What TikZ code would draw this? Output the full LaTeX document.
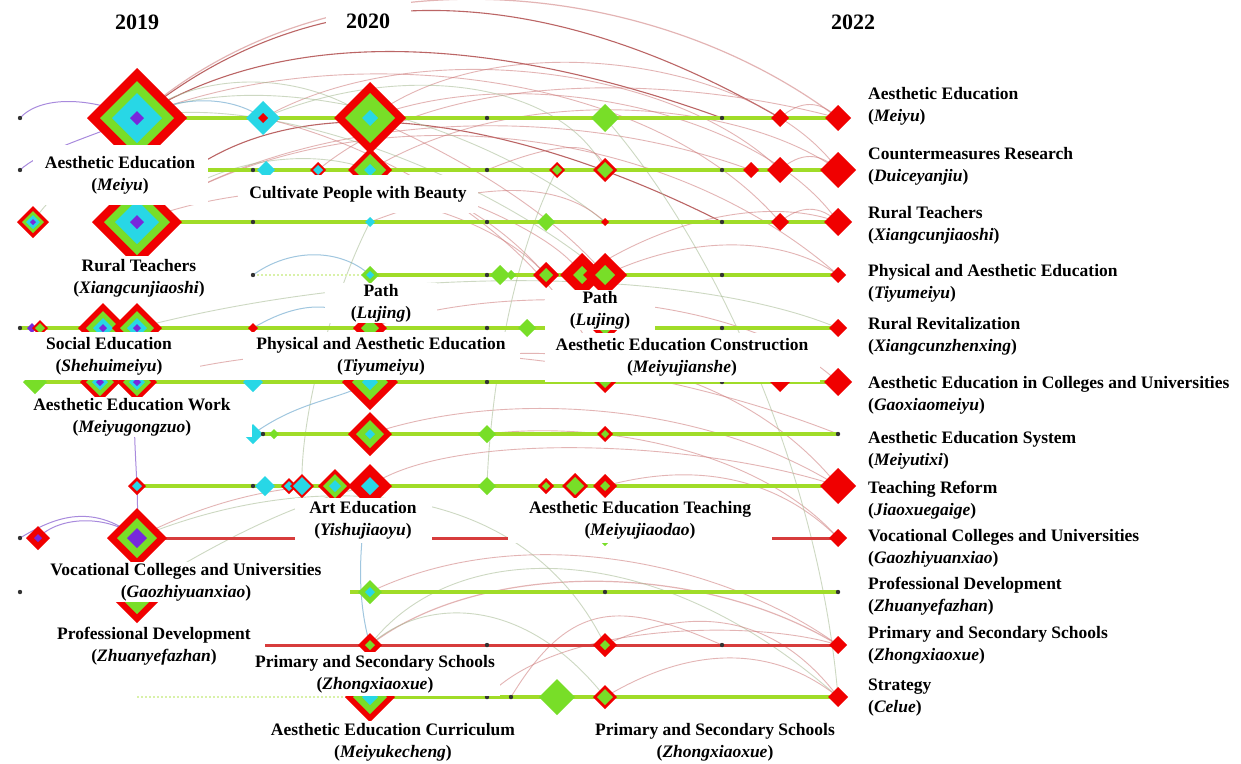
\documentclass[tikz,border=0pt]{standalone}
\usepackage{fontspec}
\setmainfont{Liberation Serif}
\definecolor{kred}{RGB}{240,0,0}
\definecolor{kgrn}{RGB}{120,222,40}
\definecolor{kcyn}{RGB}{40,215,230}
\definecolor{kpur}{RGB}{120,40,220}
\definecolor{tlgrn}{RGB}{160,220,40}
\definecolor{tlred}{RGB}{215,60,60}
\definecolor{arcr}{RGB}{205,120,120}
\definecolor{arcg}{RGB}{165,185,145}
\definecolor{arcb}{RGB}{120,175,210}
\definecolor{arcd}{RGB}{165,50,50}
\definecolor{arcp}{RGB}{140,100,210}
\newcommand\lblfont{\fontsize{17.5}{22}\selectfont\bfseries}
\newcommand\yrfont{\fontsize{22}{26}\selectfont\bfseries}
\newcommand\kw[4]{\coordinate (#1) at (#2,#3);
  \foreach \kc/\kr in {#4}{\fill[fill=\kc] (#2,#3) +(-\kr,0) -- +(0,-\kr) -- +(\kr,0) -- +(0,\kr) -- cycle;}}
\newcommand\kdot[3]{\coordinate (#1) at (#2,#3); \fill[black!80] (#1) circle (2.2);}
\newcommand\lab[7]{\node[lbl, minimum width=#4, minimum height=#5] (#1) at (#2,#3) {#6\\(\textit{#7})};}
\newcommand\rlab[4]{\node[rlbl] (#1) at (868,#2) {#3\\(\textit{#4})};}
\tikzset{
  lbl/.style={fill=white, align=center, inner sep=0pt, font=\lblfont},
  rlbl/.style={anchor=west, align=left, inner sep=0pt, font=\lblfont},
  yr/.style={fill=white, inner sep=3pt, font=\yrfont},
  tlg/.style={draw=tlgrn, line width=3.2},
  tlr/.style={draw=tlred, line width=3},
  tlf/.style={draw=tlgrn!40, line width=2, dotted},
  ar/.style={draw=arcr, line width=0.9, opacity=0.55},
  ag/.style={draw=arcg, line width=0.9, opacity=0.55},
  ab/.style={draw=arcb, line width=1, opacity=0.7},
  ad/.style={draw=arcd, line width=1.1, opacity=0.75},
  ap/.style={draw=arcp, line width=1, opacity=0.75},
}
\begin{document}
\begin{tikzpicture}[x=1pt,y=-1pt]
\fill[white] (0,0) rectangle (1241,763);
\useasboundingbox (0,0) rectangle (1241,763);

% ---------------- coordinates of all nodes (rows a..l)
\coordinate (a20) at (20,118); \coordinate (a137) at (137,118); \coordinate (a263) at (263,118);
\coordinate (a370) at (370,118); \coordinate (a487) at (487,118); \coordinate (a605) at (605,118);
\coordinate (a722) at (722,118); \coordinate (a780) at (780,118); \coordinate (a838) at (838,118);
\coordinate (b20) at (20,170); \coordinate (b137) at (137,170); \coordinate (b253) at (253,170);
\coordinate (b266) at (266,170); \coordinate (b318) at (318,170); \coordinate (b370) at (370,170);
\coordinate (b487) at (487,170); \coordinate (b557) at (557,170); \coordinate (b605) at (605,170);
\coordinate (b722) at (722,170); \coordinate (b751) at (751,170); \coordinate (b780) at (780,170);
\coordinate (b838) at (838,170);
\coordinate (c33) at (33,222); \coordinate (c137) at (137,222); \coordinate (c253) at (253,222);
\coordinate (c370) at (370,222); \coordinate (c487) at (487,222); \coordinate (c546) at (546,222);
\coordinate (c605) at (605,222); \coordinate (c722) at (722,222); \coordinate (c780) at (780,222);
\coordinate (c838) at (838,222);
\coordinate (d253) at (253,275); \coordinate (d370) at (370,275); \coordinate (d487) at (487,275);
\coordinate (d500) at (500,275); \coordinate (d511) at (511,275); \coordinate (d546) at (546,275);
\coordinate (d582) at (582,275); \coordinate (d605) at (605,275); \coordinate (d722) at (722,275);
\coordinate (d838) at (838,275);
\coordinate (e20) at (20,328); \coordinate (e137) at (137,328); \coordinate (e253) at (253,328);
\coordinate (e370) at (370,328); \coordinate (e487) at (487,328); \coordinate (e605) at (605,328);
\coordinate (e838) at (838,328);
\coordinate (f35) at (35,382); \coordinate (f137) at (137,382); \coordinate (f253) at (253,382);
\coordinate (f370) at (370,382); \coordinate (f605) at (605,382); \coordinate (f838) at (838,382);
\coordinate (g253) at (253,434); \coordinate (g370) at (370,434); \coordinate (g487) at (487,434);
\coordinate (g605) at (605,434); \coordinate (g838) at (838,434);
\coordinate (h137) at (137,486); \coordinate (h302) at (302,486); \coordinate (h370) at (370,486);
\coordinate (h487) at (487,486); \coordinate (h605) at (605,486); \coordinate (h838) at (838,486);
\coordinate (i20) at (20,538); \coordinate (i38) at (38,538); \coordinate (i137) at (137,538);
\coordinate (i838) at (838,538);
\coordinate (j137) at (137,592); \coordinate (j350) at (350,592); \coordinate (j370) at (370,592);
\coordinate (j838) at (838,592);
\coordinate (k265) at (265,645); \coordinate (k370) at (370,645); \coordinate (k605) at (605,645);
\coordinate (k722) at (722,645); \coordinate (k838) at (838,645);
\coordinate (l137) at (137,697); \coordinate (l370) at (370,697); \coordinate (l487) at (487,697);
\coordinate (l511) at (511,697); \coordinate (l605) at (605,697); \coordinate (l838) at (838,697);

% ---------------- co-occurrence arcs
\draw[ad] (a137) .. controls (330,-40) and (560,-10) .. (a780);
\draw[ar, line width=1.2] (a137) .. controls (330,-55) and (650,-25) .. (a838);
\draw[ad] (a137) .. controls (300,15) and (520,45) .. (a722);
\draw[ad] (c137) .. controls (260,60) and (520,120) .. (c722);
\draw[ar] (a370) .. controls (500,20) and (760,60) .. (b838);
\draw[ar] (a370) .. controls (520,60) and (760,110) .. (c838);
\draw[ar] (a263) .. controls (420,30) and (680,70) .. (b780);
\draw[ar] (b370) .. controls (520,80) and (740,100) .. (b838);
\draw[ar] (c137) .. controls (300,110) and (560,100) .. (b751);
\draw[ar] (a137) .. controls (320,40) and (640,60) .. (c780);
\draw[ar] (b318) .. controls (450,60) and (700,80) .. (a838);
\draw[ar] (c137) .. controls (330,90) and (650,110) .. (d838);
\draw[ag] (a137) .. controls (260,60) and (480,120) .. (c605);
\draw[ag] (a137) .. controls (260,90) and (480,170) .. (d605);
\draw[ag] (a263) .. controls (400,60) and (560,80) .. (b605);
\draw[ar] (b318) .. controls (400,170) and (480,200) .. (d546);
\draw[ar] (a263) .. controls (400,150) and (560,250) .. (f605);
\draw[ar] (a780) .. controls (800,100) and (820,100) .. (a838);
\draw[ar] (b780) .. controls (800,152) and (820,152) .. (b838);
\draw[ar] (c780) .. controls (800,205) and (820,205) .. (c838);
\draw[ap] (a20) .. controls (40,96) and (90,96) .. (a137);
\draw[ap] (b20) .. controls (40,152) and (80,140) .. (a137);
\draw[ag] (c33) .. controls (60,180) and (110,160) .. (a137);
\draw[ag] (a137) .. controls (200,70) and (300,70) .. (a370);
\draw[ag] (c137) .. controls (220,150) and (320,150) .. (b370);
\draw[ab] (a137) .. controls (180,95) and (230,95) .. (a263);
\draw[ab] (d253) .. controls (290,248) and (340,248) .. (d370);
\draw[ar] (c137) .. controls (300,160) and (480,200) .. (d546);
\draw[ar] (b370) .. controls (480,200) and (560,240) .. (d582);
\draw[ar] (a370) .. controls (470,160) and (560,220) .. (d605);
\draw[ar] (c370) .. controls (480,180) and (560,180) .. (c605);
\draw[ar] (b487) .. controls (560,140) and (600,140) .. (b605);
\draw[ar] (d605) .. controls (700,230) and (790,240) .. (d838);
\draw[ar] (d582) .. controls (680,210) and (780,200) .. (c838);
\draw[ag] (e137) .. controls (400,260) and (700,270) .. (e838);
\draw[ar] (e370) .. controls (500,280) and (740,290) .. (f838);
\draw[ar] (f370) .. controls (500,330) and (720,340) .. (h838);
\draw[ar] (g370) .. controls (500,390) and (700,400) .. (h838);
\draw[ar] (h370) .. controls (450,430) and (700,440) .. (h838);
\draw[ar] (f137) .. controls (300,330) and (600,340) .. (g838);
\draw[ar] (g487) .. controls (600,420) and (760,450) .. (i838);
\draw[ar] (h605) .. controls (700,460) and (780,480) .. (i838);
\draw[ag] (a605) .. controls (720,250) and (820,480) .. (l838);
\draw[ag] (b557) .. controls (510,260) and (490,400) .. (h487);
\draw[ag] (c370) .. controls (330,300) and (300,420) .. (h302);
\draw[ap] (f137) .. controls (130,430) and (140,480) .. (i137);
\draw[ap] (i38) .. controls (60,515) and (110,515) .. (i137);
\draw[ap] (i20) .. controls (50,520) and (90,500) .. (i137);
\draw[ar] (i137) .. controls (200,505) and (280,480) .. (h370);
\draw[ag] (j137) .. controls (220,540) and (300,500) .. (h370);
\draw[ab] (h370) .. controls (355,560) and (360,610) .. (k370);
\draw[ar, line width=1.2] (k370) .. controls (480,560) and (700,560) .. (k838);
\draw[ag] (k370) .. controls (450,540) and (650,530) .. (l838);
\draw[ar] (l511) .. controls (570,600) and (620,600) .. (k722);
\draw[ar] (l605) .. controls (700,640) and (780,650) .. (l838);
\draw[ar] (k605) .. controls (700,600) and (780,620) .. (l838);
\draw[ar] (l487) .. controls (560,620) and (760,620) .. (k838);
\draw[ar] (j370) .. controls (520,520) and (720,560) .. (k838);
\draw[ag] (i137) .. controls (300,470) and (520,470) .. (k605);
\draw[ag] (k370) .. controls (420,600) and (520,590) .. (l605);
\draw[ab] (e253) .. controls (300,300) and (340,300) .. (e370);
\draw[ab] (g253) .. controls (300,400) and (340,400) .. (f370);

% ---------------- timelines
\draw[tlg] (a137) -- (a838);
\draw[tlg] (b137) -- (b838);
\draw[tlg] (c137) -- (c838);
\draw[tlf] (d253) -- (d370); \draw[tlg] (d370) -- (d838);
\draw[tlg] (e20) -- (e838);
\draw[tlg] (f35) -- (f838);
\draw[tlg] (g253) -- (g838);
\draw[tlg] (h137) -- (h838);
\draw[tlr] (i137) -- (i838);
\draw[tlg] (j350) -- (j838);
\draw[tlr] (k265) -- (k838);
\draw[tlf] (l137) -- (l370); \draw[tlg] (l370) -- (l838);

% ---------------- keyword nodes
\kdot{na20}{20}{118}
\kw{na137}{137}{118}{kred/50,kgrn/37,kcyn/25,kpur/7}
\kw{na263}{263}{118}{kcyn/17,kred/5}
\kw{na370}{370}{118}{kred/36,kgrn/25,kcyn/8}
\kdot{na487}{487}{118}
\kw{na605}{605}{118}{kgrn/14}
\kdot{na722}{722}{118}
\kw{na780}{780}{118}{kred/9}
\kw{na838}{838}{118}{kred/13}
\kdot{nb20}{20}{170}
\kdot{nb253}{253}{170}
\kw{nb266}{266}{170}{kcyn/9}
\kw{nb318}{318}{170}{kred/8,kcyn/5}
\kw{nb370}{370}{170}{kred/22,kgrn/16,kcyn/6}
\kdot{nb487}{487}{170}
\kw{nb557}{557}{170}{kred/8,kgrn/5}
\kw{nb605}{605}{170}{kred/12,kgrn/8}
\kdot{nb722}{722}{170}
\kw{nb751}{751}{170}{kred/8}
\kw{nb780}{780}{170}{kred/13}
\kw{nb838}{838}{170}{kred/18}
\kw{nc33}{33}{222}{kred/16,kgrn/11,kcyn/7,kpur/3}
\kw{nc137}{137}{222}{kred/45,kgrn/33,kcyn/22,kpur/7}
\kdot{nc253}{253}{222}
\kw{nc370}{370}{222}{kcyn/5}
\kdot{nc487}{487}{222}
\kw{nc546}{546}{222}{kgrn/9}
\kw{nc605}{605}{222}{kred/4}
\kdot{nc722}{722}{222}
\kw{nc780}{780}{222}{kred/9}
\kw{nc838}{838}{222}{kred/14}
\kdot{nd253}{253}{275}
\kw{nd370}{370}{275}{kgrn/9,kcyn/4}
\kdot{nd487}{487}{275}
\kw{nd500}{500}{275}{kgrn/10}
\kw{nd511}{511}{275}{kgrn/5}
\kw{nd546}{546}{275}{kred/13,kgrn/7}
\kw{nd582}{582}{275}{kred/22,kgrn/9}
\kw{nd605}{605}{275}{kred/22,kgrn/10}
\kdot{nd722}{722}{275}
\kw{nd838}{838}{275}{kred/8}
\kdot{ne20}{20}{328}
\kw{ne32}{32}{328}{kpur/5}
\kw{ne40}{40}{328}{kred/8,kgrn/5}
\kw{ne103}{103}{328}{kred/25,kgrn/17,kcyn/10,kpur/4}
\kw{ne137}{137}{328}{kred/25,kgrn/17,kcyn/10,kpur/4}
\kw{ne253}{253}{328}{kred/5}
\kw{ne370}{370}{328}{kred/17,kgrn/9}
\kdot{ne487}{487}{328}
\kw{ne527}{527}{328}{kgrn/9}
\kw{ne605}{605}{328}{kred/14,kgrn/7}
\kdot{ne722}{722}{328}
\kw{ne838}{838}{328}{kred/9}
\kw{nf35}{35}{382}{kgrn/12}
\kw{nf100}{100}{382}{kred/20,kgrn/14,kcyn/8,kpur/4}
\kw{nf137}{137}{382}{kred/20,kgrn/14,kcyn/8,kpur/4}
\kw{nf253}{253}{382}{kcyn/10}
\kw{nf370}{370}{382}{kred/28,kgrn/18,kcyn/8}
\kdot{nf487}{487}{382}
\kw{nf605}{605}{382}{kred/11,kgrn/6}
\kdot{nf722}{722}{382}
\kw{nf780}{780}{382}{kred/10}
\kw{nf838}{838}{382}{kred/14}
\kw{ng253}{253}{434}{kcyn/10}
\kdot{ng263}{263}{434}
\kw{ng274}{274}{434}{kgrn/5}
\kw{ng370}{370}{434}{kred/22,kgrn/14,kcyn/5}
\kw{ng487}{487}{434}{kgrn/9}
\kw{ng605}{605}{434}{kred/8,kgrn/4}
\kdot{ng838}{838}{434}
\kw{nh137}{137}{486}{kred/9,kcyn/5}
\kdot{nh253}{253}{486}
\kw{nh265}{265}{486}{kcyn/10}
\kw{nh289}{289}{486}{kred/8,kcyn/5}
\kw{nh302}{302}{486}{kred/12,kcyn/9}
\kw{nh335}{335}{486}{kred/17,kgrn/12,kcyn/6}
\kw{nh370}{370}{486}{kred/22,kcyn/9}
\kw{nh487}{487}{486}{kgrn/9}
\kw{nh546}{546}{486}{kred/8,kgrn/4}
\kw{nh575}{575}{486}{kred/13,kgrn/9}
\kw{nh605}{605}{486}{kred/12,kgrn/5}
\kw{nh838}{838}{486}{kred/18}
\kdot{ni20}{20}{538}
\kw{ni38}{38}{538}{kred/12,kpur/4}
\kw{ni137}{137}{538}{kred/30,kgrn/20,kpur/10}
\kw{ni605}{605}{538}{kgrn/8}
\kw{ni838}{838}{538}{kred/9}
\kdot{nj20}{20}{592}
\kw{nj137}{137}{592}{kred/31,kgrn/22,kcyn/10}
\kw{nj370}{370}{592}{kgrn/12,kcyn/5}
\kdot{nj605}{605}{592}
\kdot{nj838}{838}{592}
\kw{nk370}{370}{645}{kred/12,kgrn/5}
\kdot{nk487}{487}{645}
\kw{nk605}{605}{645}{kred/12,kgrn/5}
\kdot{nk722}{722}{645}
\kw{nk838}{838}{645}{kred/9}
\kw{nl370}{370}{697}{kred/25,kgrn/17,kcyn/8}
\kdot{nl487}{487}{697}
\kdot{nl511}{511}{697}
\kw{nl557}{557}{697}{kgrn/18}
\kw{nl605}{605}{697}{kred/12,kgrn/8}
\kw{nl838}{838}{697}{kred/10}

% ---------------- cluster labels (white boxes)
\lab{L1}{120}{175}{175}{60}{Aesthetic Education}{Meiyu}
\node[lbl, minimum width=240, minimum height=38] (L2) at (358,194) {Cultivate People with Beauty};
\lab{L3}{139}{278}{157}{45}{Rural Teachers}{Xiangcunjiaoshi}
\lab{L4}{381}{303}{112}{40}{Path}{Lujing}
\lab{L5}{600}{310}{110}{40}{Path}{Lujing}
\lab{L6}{109}{356}{182}{48}{Social Education}{Shehuimeiyu}
\lab{L7}{381}{356}{277}{48}{Physical and Aesthetic Education}{Tiyumeiyu}
\lab{L8}{682}{357}{275}{49}{Aesthetic Education Construction}{Meiyujianshe}
\lab{L9}{132}{417}{240}{40}{Aesthetic Education Work}{Meiyugongzuo}
\lab{L10}{363}{520}{137}{45}{Art Education}{Yishujiaoyu}
\lab{L11}{640}{520}{264}{45}{Aesthetic Education Teaching}{Meiyujiaodao}
\lab{L12}{186}{582}{293}{40}{Vocational Colleges and Universities}{Gaozhiyuanxiao}
\lab{L13}{154}{646}{217}{44}{Professional Development}{Zhuanyefazhan}
\lab{L14}{375}{674}{250}{44}{Primary and Secondary Schools}{Zhongxiaoxue}
\lab{L15}{393}{742}{260}{43}{Aesthetic Education Curriculum}{Meiyukecheng}
\lab{L16}{715}{742}{250}{43}{Primary and Secondary Schools}{Zhongxiaoxue}

% ---------------- row labels (right)
\rlab{R1}{106}{Aesthetic Education}{Meiyu}
\rlab{R2}{166}{Countermeasures Research}{Duiceyanjiu}
\rlab{R3}{225}{Rural Teachers}{Xiangcunjiaoshi}
\rlab{R4}{283}{Physical and Aesthetic Education}{Tiyumeiyu}
\rlab{R5}{336}{Rural Revitalization}{Xiangcunzhenxing}
\rlab{R6}{395}{Aesthetic Education in Colleges and Universities}{Gaoxiaomeiyu}
\rlab{R7}{450}{Aesthetic Education System}{Meiyutixi}
\rlab{R8}{500}{Teaching Reform}{Jiaoxuegaige}
\rlab{R9}{548}{Vocational Colleges and Universities}{Gaozhiyuanxiao}
\rlab{R10}{596}{Professional Development}{Zhuanyefazhan}
\rlab{R11}{645}{Primary and Secondary Schools}{Zhongxiaoxue}
\rlab{R12}{698}{Strategy}{Celue}

% ---------------- years
\node[yr] (Y19) at (137,22) {2019};
\node[yr, minimum width=85, minimum height=40] (Y20) at (368,21) {2020};
\node[yr] (Y22) at (853,22) {2022};
\end{tikzpicture}
\end{document}
